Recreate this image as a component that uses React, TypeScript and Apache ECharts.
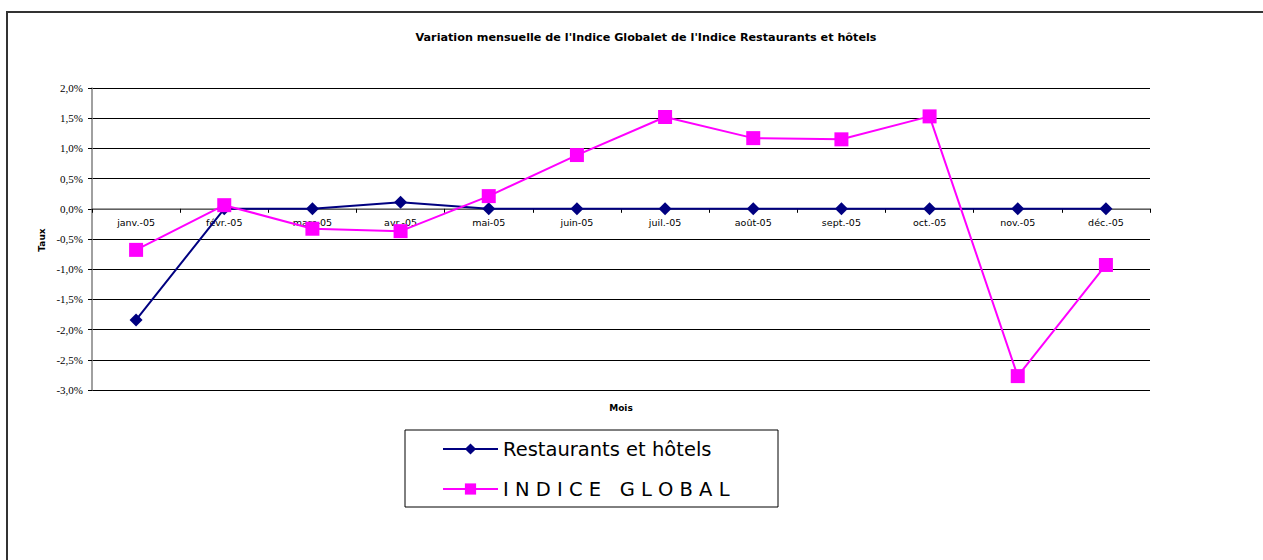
import React, { useEffect, useRef } from "react";
import * as echarts from "echarts";

const months = ["janv.-05", "févr.-05", "mars-05", "avr.-05", "mai-05", "juin-05", "juil.-05", "août-05", "sept.-05", "oct.-05", "nov.-05", "déc.-05"];
const restaurants = [-1.84, 0, 0, 0.11, 0, 0, 0, 0, 0, 0, 0, 0];
const indiceGlobal = [-0.68, 0.06, -0.33, -0.37, 0.21, 0.89, 1.52, 1.17, 1.15, 1.53, -2.77, -0.93];
const yMin = -3;
const yMax = 2;
const titleText = "Variation mensuelle de l'Indice Globalet de l'Indice Restaurants et hôtels";
const seriesNames = ["Restaurants et hôtels", "I N D I C E   G L O B A L"];
const xAxisTitle = "Mois";
const yAxisTitle = "Taux";

const GRID_TOP = 88;
const GRID_BOTTOM = 170;
const H = 560;

export default function App() {
  const ref = useRef<HTMLDivElement>(null);
  useEffect(() => {
    document.body.style.margin = "0";
    const chart = echarts.init(ref.current!, null, { renderer: "svg" });
    const gridH = H - GRID_TOP - GRID_BOTTOM;
    // place the category axis at the value 0 (crossing) of the value axis
    const zeroOffset = -gridH * (0 - yMin) / (yMax - yMin);
    chart.setOption({
      animation: false,
      backgroundColor: "#ffffff",
      title: {
        text: titleText,
        left: 641,
        textAlign: "center",
        top: 27,
        textStyle: { fontFamily: "DejaVu Sans", fontSize: 11.2, fontWeight: "bold", color: "#000" },
      },
      graphic: [
        {
          type: "rect",
          shape: { x: 7, y: 12, width: 1262, height: 560 },
          style: { fill: "none", stroke: "#333", lineWidth: 2 },
          silent: true,
        },
        {
          type: "rect",
          shape: { x: 405, y: 430, width: 373, height: 77 },
          style: { fill: "#fff", stroke: "#000", lineWidth: 1 },
          silent: true,
          z: 0,
        },
        {
          type: "text",
          x: 621,
          y: 408,
          style: {
            text: xAxisTitle,
            font: "bold 9px 'DejaVu Sans'",
            fill: "#000",
            align: "center",
            verticalAlign: "middle",
          },
          silent: true,
        },
        {
          type: "text",
          x: 42,
          y: 240,
          rotation: Math.PI / 2,
          style: {
            text: yAxisTitle,
            font: "bold 9px 'DejaVu Sans'",
            fill: "#000",
            align: "center",
            verticalAlign: "middle",
          },
          silent: true,
        },
      ],
      legend: {
        orient: "vertical",
        left: 442,
        top: 439,
        padding: 0,
        itemWidth: 55,
        itemHeight: 14,
        itemGap: 20,
        data: seriesNames,
        textStyle: { fontFamily: "DejaVu Sans", fontSize: 19.5, color: "#000" },
        z: 5,
      },
      grid: { left: 92, right: 113, top: GRID_TOP, bottom: GRID_BOTTOM, containLabel: false, outerBoundsMode: "none" },
      xAxis: {
        type: "category",
        data: months,
        boundaryGap: true,
        offset: zeroOffset,
        axisLine: { onZero: false, lineStyle: { color: "#808080", width: 1.5 } },
        axisTick: { show: true, length: 4, lineStyle: { color: "#000" } },
        axisLabel: { fontFamily: "DejaVu Sans", fontSize: 9.5, color: "#000", margin: 9 },
        z: 1,
      },
      yAxis: {
        type: "value",
        min: yMin,
        max: yMax,
        interval: 0.5,
        axisLine: { show: true, lineStyle: { color: "#808080", width: 1.5 } },
        axisTick: { show: true, length: 4, lineStyle: { color: "#000" } },
        axisLabel: {
          fontFamily: "Liberation Serif, Times New Roman, serif",
          fontSize: 11,
          color: "#000",
          margin: 9,
          formatter: (v: number) => v.toFixed(1).replace(".", ",") + "%",
        },
        splitLine: { show: true, lineStyle: { color: "#000", width: 1 } },
      },
      series: [
        {
          name: seriesNames[0],
          type: "line",
          data: restaurants,
          symbol: "diamond",
          symbolSize: 13,
          lineStyle: { color: "#000080", width: 2 },
          itemStyle: { color: "#000080" },
          z: 3,
        },
        {
          name: seriesNames[1],
          type: "line",
          data: indiceGlobal,
          symbol: "rect",
          symbolSize: 14,
          lineStyle: { color: "#FF00FF", width: 2 },
          itemStyle: { color: "#FF00FF" },
          z: 4,
        },
      ],
    });
    return () => chart.dispose();
  }, []);
  return <div ref={ref} style={{ width: 1263, height: 560 }} />;
}
